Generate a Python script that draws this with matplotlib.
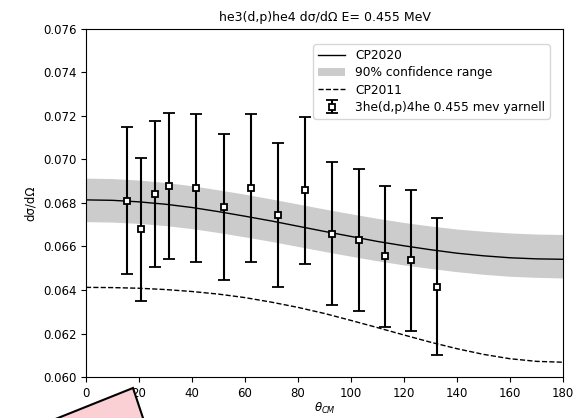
import numpy as np
import matplotlib
matplotlib.use("Agg")
import matplotlib.pyplot as plt
from matplotlib.patches import Polygon

# yarnell data
theta_exp = [15.6, 20.7, 26.0, 31.2, 41.6, 52.0, 62.3, 72.6, 82.8, 92.9, 102.9, 112.8, 122.6, 132.4]
xs_exp = [0.06811, 0.06679, 0.06841, 0.06878, 0.06868, 0.06783, 0.06868, 0.06746,
          0.06858, 0.06659, 0.06631, 0.06555, 0.06537, 0.06414]
err_exp = [0.00336, 0.00328, 0.00337, 0.00337, 0.00340, 0.00336, 0.00340, 0.00331,
           0.00338, 0.00328, 0.00327, 0.00324, 0.00324, 0.00315]

# curves, every 10 degrees
theta_fit = [0, 10, 20, 30, 40, 50, 60, 70, 80, 90, 100, 110, 120, 130, 140, 150, 160, 170, 180]
cp2020 = [0.06814, 0.06812, 0.06805, 0.06794, 0.06779, 0.06760, 0.06739, 0.06717, 0.06693,
          0.06669, 0.06646, 0.06623, 0.06603, 0.06585, 0.06569, 0.06557, 0.06548, 0.06543, 0.06541]
band_hi = [0.06914, 0.06912, 0.06905, 0.06894, 0.06879, 0.06860, 0.06840, 0.06818, 0.06795,
           0.06772, 0.06750, 0.06729, 0.06710, 0.06694, 0.06680, 0.06670, 0.06662, 0.06657, 0.06655]
band_lo = [0.06714, 0.06712, 0.06706, 0.06696, 0.06682, 0.06664, 0.06644, 0.06623, 0.06600,
           0.06577, 0.06555, 0.06534, 0.06515, 0.06499, 0.06484, 0.06472, 0.06463, 0.06458, 0.06455]
cp2011 = [0.06412, 0.06411, 0.06408, 0.06402, 0.06393, 0.06381, 0.06365, 0.06344, 0.06320,
          0.06292, 0.06260, 0.06227, 0.06193, 0.06160, 0.06130, 0.06104, 0.06084, 0.06072, 0.06068]

plt.rcParams['font.size'] = 8.5
fig = plt.figure(figsize=(5.77, 4.18), dpi=100)
ax = fig.add_axes([0.149, 0.098, 0.827, 0.833])

ax.plot(theta_fit, cp2020, color='k', lw=1, label='CP2020')
ax.fill_between(theta_fit, band_lo, band_hi, color='#cccccc', lw=0, label='90% confidence range')
ax.plot(theta_fit, cp2011, color='k', lw=1, ls='--', label='CP2011')
ax.errorbar(theta_exp, xs_exp, yerr=err_exp, fmt='s', color='k', mfc='white', mec='k',
            ms=5, mew=1.3, elinewidth=1.5, capsize=4, capthick=1.5,
            label='3he(d,p)4he 0.455 mev yarnell')

ax.set_xlim(0, 180)
ax.set_ylim(0.060, 0.076)
ax.set_xticks(np.arange(0, 181, 20))
ax.set_yticks(np.arange(0.060, 0.0761, 0.002))
ax.set_xlabel(r'$\theta_{CM}$', labelpad=1)
ax.set_ylabel('dσ/dΩ')
ax.set_title('he3(d,p)he4 dσ/dΩ E= 0.455 MeV', fontsize=9)
ax.legend(loc='upper right', bbox_to_anchor=(0.972, 0.956), borderaxespad=0,
          fontsize=8.8, labelspacing=0.35, handlelength=2.2)

# pink shape at the bottom left
W, H = 577, 418
pts = [(133, 388), (153, 448), (-17, 448)]
fig.patches.append(Polygon([(px / W, 1 - py / H) for px, py in pts], closed=True,
                           transform=fig.transFigure, facecolor='#fbd0d4',
                           edgecolor='k', lw=1.5, zorder=10))

fig.savefig('out.png', dpi=100)
